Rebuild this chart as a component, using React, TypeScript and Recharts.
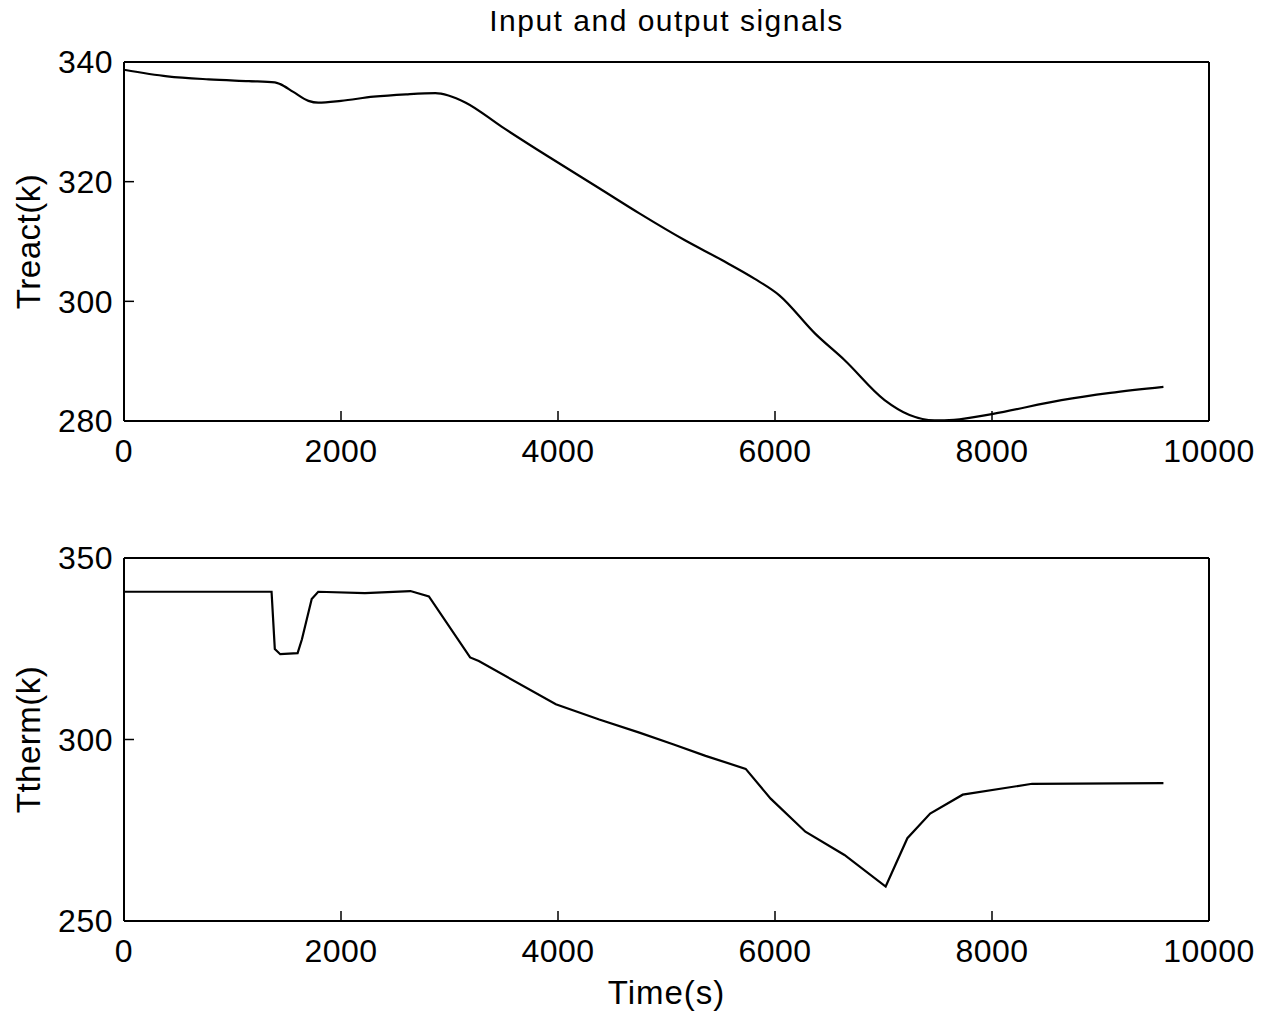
import React from 'react';
import { LineChart, Line, XAxis, YAxis } from 'recharts';

const chartTitle = 'Input and output signals';
const xTicks = [0, 2000, 4000, 6000, 8000, 10000];

const treactTime = [0, 400, 780, 1150, 1390, 1440, 1560, 1700, 1790, 2000, 2300, 2600, 2870, 2990, 3150, 3480, 3910, 4380, 4750, 5170, 5510, 5810, 6040, 6370, 6640, 7010, 7240, 7470, 7650, 8010, 8640, 9090, 9580];
const treactValues = [338.7, 337.6, 337.1, 336.8, 336.6, 336.3, 335.0, 333.5, 333.2, 333.5, 334.2, 334.6, 334.8, 334.4, 333.2, 329.2, 324.2, 318.9, 314.7, 310.2, 306.9, 303.8, 301.0, 294.6, 290.2, 283.5, 281.0, 280.1, 280.2, 281.2, 283.5, 284.7, 285.7];
const treactTicks = [280, 300, 320, 340];

const tthermTime = [0, 1360, 1390, 1440, 1600, 1640, 1730, 1790, 2220, 2640, 2810, 3190, 3270, 3980, 4380, 4750, 5060, 5360, 5730, 5960, 6280, 6640, 7020, 7220, 7430, 7730, 8370, 9580];
const tthermValues = [340.7, 340.7, 324.9, 323.5, 323.8, 327.6, 338.7, 340.7, 340.3, 340.9, 339.4, 322.6, 321.6, 309.7, 305.5, 301.9, 298.7, 295.5, 291.9, 283.7, 274.6, 268.2, 259.5, 272.8, 279.6, 284.8, 287.8, 288.0];
const tthermTicks = [250, 300, 350];

const treactData = treactTime.map((t, i) => ({ t, v: treactValues[i] }));
const tthermData = tthermTime.map((t, i) => ({ t, v: tthermValues[i] }));

const FONT = 'Liberation Sans, Arial, Helvetica, sans-serif';
const tickStyle = { fill: '#000', fontSize: 32, fontFamily: FONT, letterSpacing: 0.5 };
const axisLine = { stroke: '#000', strokeWidth: 2 };

function Panel({ data, domain, ticks, yLabel, height, margin, bottomHeight, xLabel, curve }: any) {
  return (
    <LineChart width={1265} height={height} data={data} margin={margin}>
      <XAxis
        dataKey="t"
        type="number"
        domain={[0, 10000]}
        ticks={xTicks}
        interval={0}
        tickSize={-10}
        tickMargin={28}
        tick={tickStyle}
        axisLine={axisLine}
        tickLine={{ stroke: '#000', strokeWidth: 1.5 }}
        height={bottomHeight}
        label={xLabel ? { value: xLabel, position: 'insideBottom', offset: -3, style: { fill: '#000', fontSize: 33, fontFamily: FONT, letterSpacing: 1 } } : undefined}
      />
      <XAxis
        xAxisId="top"
        dataKey="t"
        type="number"
        orientation="top"
        domain={[0, 10000]}
        ticks={xTicks}
        interval={0}
        tickSize={-10}
        tick={false}
        axisLine={axisLine}
        tickLine={{ stroke: '#000', strokeWidth: 1.5 }}
        height={1}
      />
      <YAxis
        type="number"
        domain={domain}
        ticks={ticks}
        interval={0}
        allowDataOverflow
        tickSize={-10}
        tickMargin={21}
        tick={tickStyle}
        axisLine={axisLine}
        tickLine={{ stroke: '#000', strokeWidth: 1.5 }}
        width={124}
        label={{ value: yLabel, angle: -90, position: 'insideLeft', offset: 28, style: { textAnchor: 'middle', fill: '#000', fontSize: 33, fontFamily: FONT, letterSpacing: 0.5 } }}
      />
      <YAxis
        yAxisId="right"
        orientation="right"
        type="number"
        domain={domain}
        ticks={ticks}
        interval={0}
        tickSize={-10}
        tick={false}
        axisLine={axisLine}
        tickLine={{ stroke: '#000', strokeWidth: 1.5 }}
        width={1}
      />
      <Line
        type={curve}
        dataKey="v"
        stroke="#000"
        strokeWidth={2.2}
        dot={false}
        activeDot={false}
        isAnimationActive={false}
      />
    </LineChart>
  );
}

export default function App() {
  return (
    <div style={{ position: 'absolute', left: 0, top: 0, width: 1265, height: 1017, background: '#fff', fontFamily: FONT }}>
      <div style={{ position: 'absolute', left: 124, top: 4, width: 1085, textAlign: 'center', fontSize: 30, letterSpacing: 1.5, color: '#000', fontFamily: FONT }}>
        {chartTitle}
      </div>
      <div style={{ position: 'absolute', left: 0, top: 0 }}>
        <Panel
          data={treactData}
          domain={[280, 340]}
          ticks={treactTicks}
          yLabel="Treact(k)"
          height={480}
          margin={{ top: 61, right: 55, bottom: 19, left: 0 }}
          bottomHeight={40}
          curve="monotone"
        />
      </div>
      <div style={{ position: 'absolute', left: 0, top: 480 }}>
        <Panel
          data={tthermData}
          domain={[250, 350]}
          ticks={tthermTicks}
          yLabel="Ttherm(k)"
          height={537}
          margin={{ top: 77, right: 55, bottom: 16, left: 0 }}
          bottomHeight={80}
          xLabel="Time(s)"
          curve="linear"
        />
      </div>
    </div>
  );
}
